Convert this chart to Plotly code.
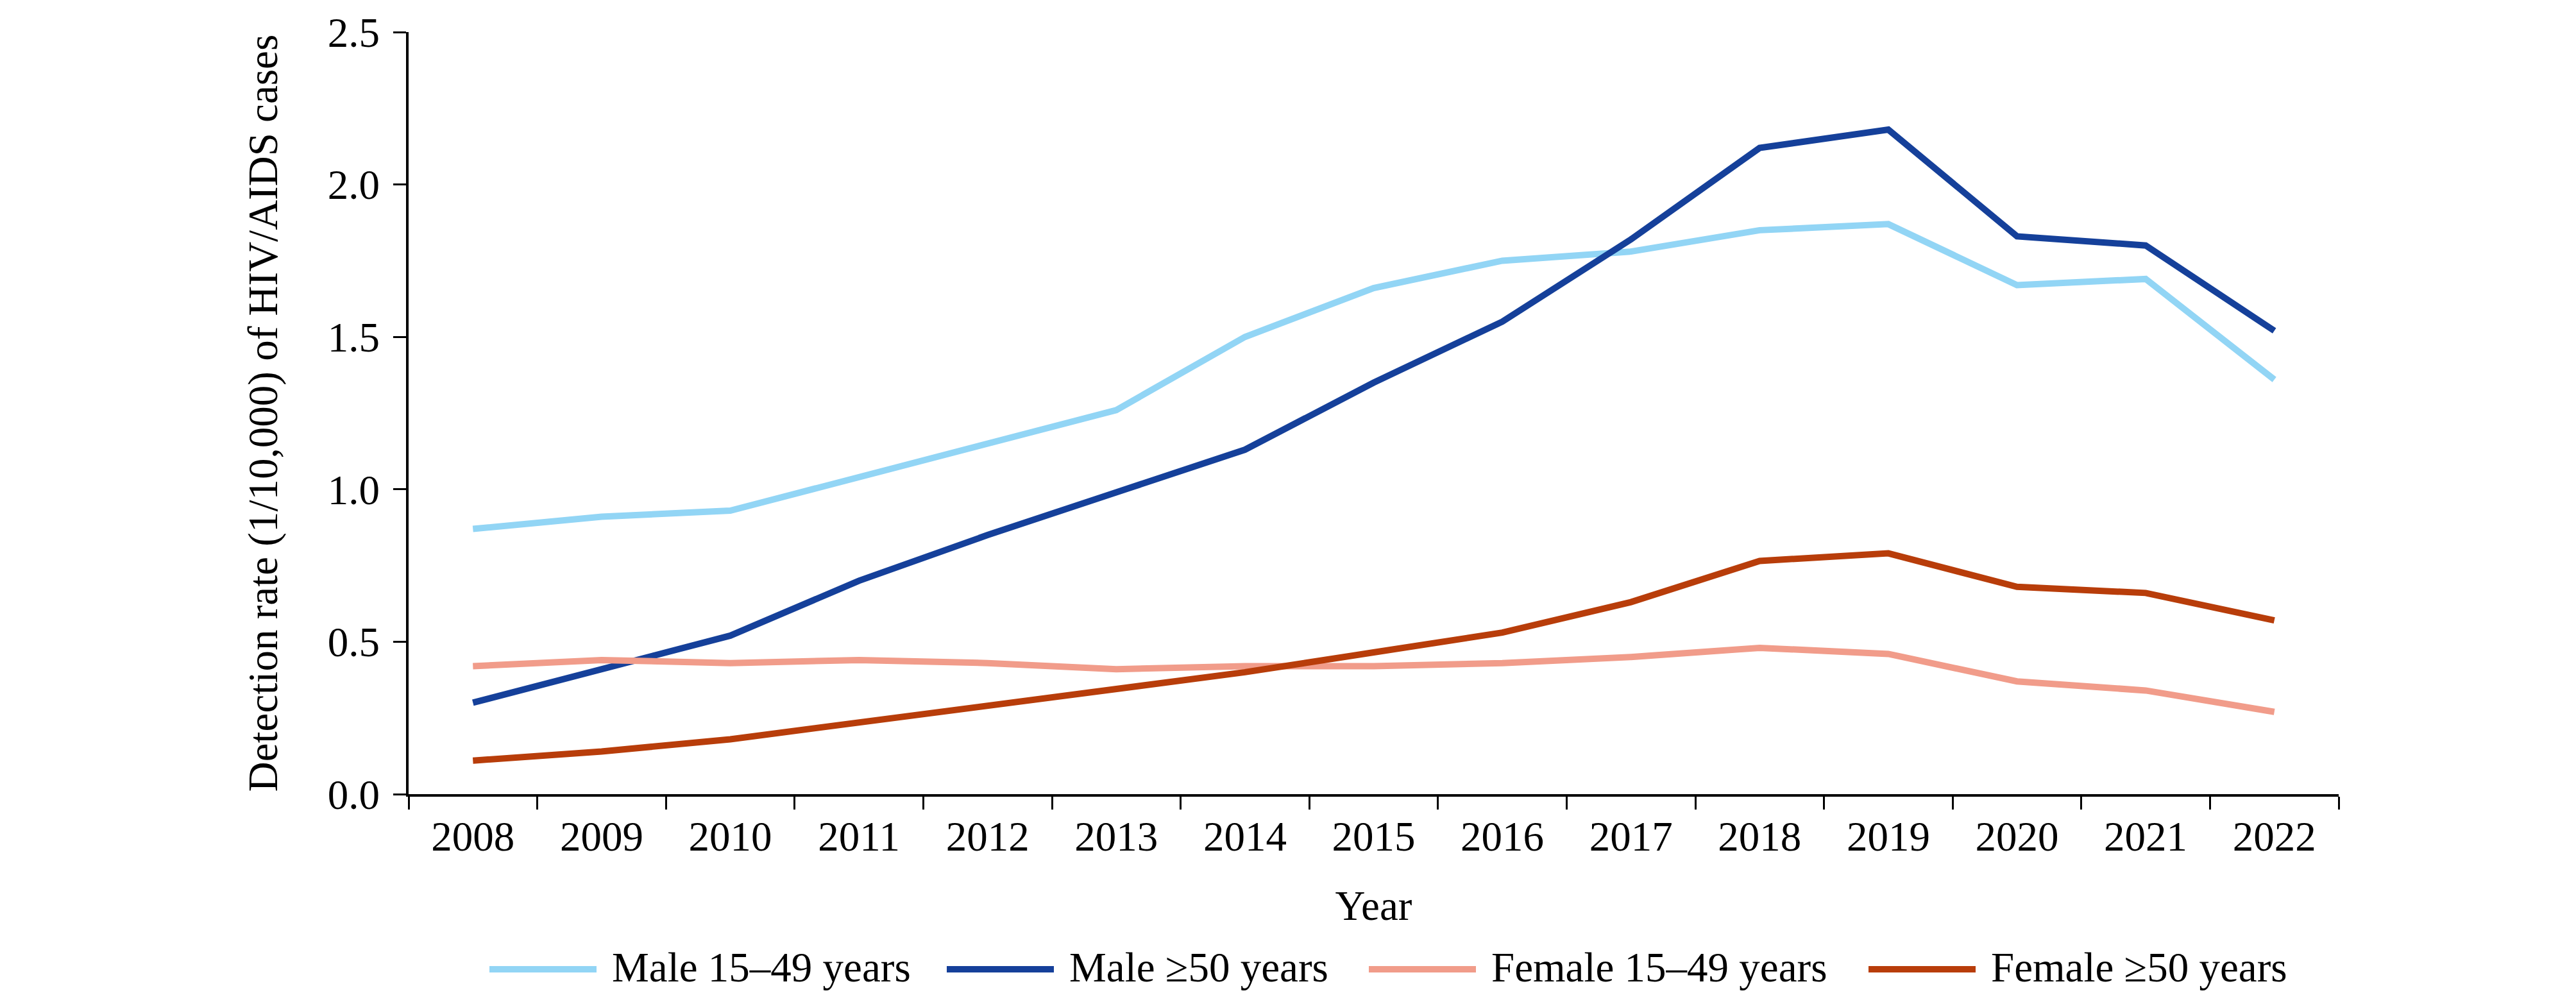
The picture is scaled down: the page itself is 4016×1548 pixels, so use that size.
import plotly.graph_objects as go

years = ["2008", "2009", "2010", "2011", "2012", "2013", "2014", "2015",
         "2016", "2017", "2018", "2019", "2020", "2021", "2022"]

male_15_49 = [0.87, 0.91, 0.93, 1.04, 1.15, 1.26, 1.50, 1.66, 1.75, 1.78, 1.85, 1.87, 1.67, 1.69, 1.36]
male_50 = [0.30, 0.41, 0.52, 0.70, 0.85, 0.99, 1.13, 1.35, 1.55, 1.82, 2.12, 2.18, 1.83, 1.80, 1.52]
female_15_49 = [0.42, 0.44, 0.43, 0.44, 0.43, 0.41, 0.42, 0.42, 0.43, 0.45, 0.48, 0.46, 0.37, 0.34, 0.27]
female_50 = [0.11, 0.14, 0.18, 0.235, 0.29, 0.34, 0.40, 0.465, 0.53, 0.63, 0.765, 0.79, 0.68, 0.66, 0.57]

y_ticks = [0.0, 0.5, 1.0, 1.5, 2.0, 2.5]

names = ["Male 15–49 years", "Male ≥50 years", "Female 15–49 years", "Female ≥50 years"]
colors = ["#92D5F5", "#15409A", "#F19C8A", "#B83D0A"]
series = [male_15_49, male_50, female_15_49, female_50]

FONT = "Times New Roman, Liberation Serif, serif"
W, H = 4016, 1548
L, R, T, B = 629, 378, 42, 318
pw = W - L - R
ph = H - T - B


def px_x(p):
    return (p - L) / pw


def px_y(p):
    return (H - B - p) / ph


fig = go.Figure()
for name, vals, col in zip(names, series, colors):
    fig.add_trace(go.Scatter(
        x=years, y=vals, name=name, mode="lines",
        line=dict(color=col, width=10),
        showlegend=False,
    ))

# legend drawn by hand so the sample lines are long like the original
leg_starts = [755, 1468, 2126, 2905]
leg_len = 167
leg_y = 1503
shapes = []
annotations = []
for start, name, col in zip(leg_starts, names, colors):
    shapes.append(dict(
        type="line", xref="paper", yref="paper",
        x0=px_x(start), x1=px_x(start + leg_len),
        y0=px_y(leg_y), y1=px_y(leg_y),
        line=dict(color=col, width=10),
    ))
    annotations.append(dict(
        text=name, xref="paper", yref="paper",
        x=px_x(start + leg_len + 22), y=px_y(leg_y - 3),
        xanchor="left", yanchor="middle", showarrow=False,
        font=dict(family=FONT, size=65, color="black"),
    ))

fig.update_layout(
    width=W, height=H,
    margin=dict(l=L, r=R, t=T, b=B, autoexpand=False),
    paper_bgcolor="white", plot_bgcolor="white",
    font=dict(family=FONT, size=65, color="black"),
    shapes=shapes, annotations=annotations,
    showlegend=False,
)

fig.update_xaxes(
    type="category", range=[-0.5, 14.5], automargin=False,
    tickson="boundaries", ticks="outside", ticklen=20, tickwidth=3, tickcolor="black",
    ticklabelstandoff=6,
    showline=True, linewidth=4, linecolor="black", showgrid=False, zeroline=False,
    title=dict(text="Year", font=dict(family=FONT, size=65), standoff=50),
    tickfont=dict(family=FONT, size=65),
)
fig.update_yaxes(
    range=[0, 2.5], tickmode="array", tickvals=y_ticks, tickformat=".1f", automargin=False,
    ticks="outside", ticklen=20, tickwidth=3, tickcolor="black",
    ticklabelstandoff=8, ticklabeloverflow="allow",
    showline=True, linewidth=4, linecolor="black", showgrid=False, zeroline=False,
    title=dict(text="Detection rate (1/10,000) of HIV/AIDS cases", font=dict(family=FONT, size=65), standoff=58),
    tickfont=dict(family=FONT, size=65),
)

fig.write_html("out.html")
